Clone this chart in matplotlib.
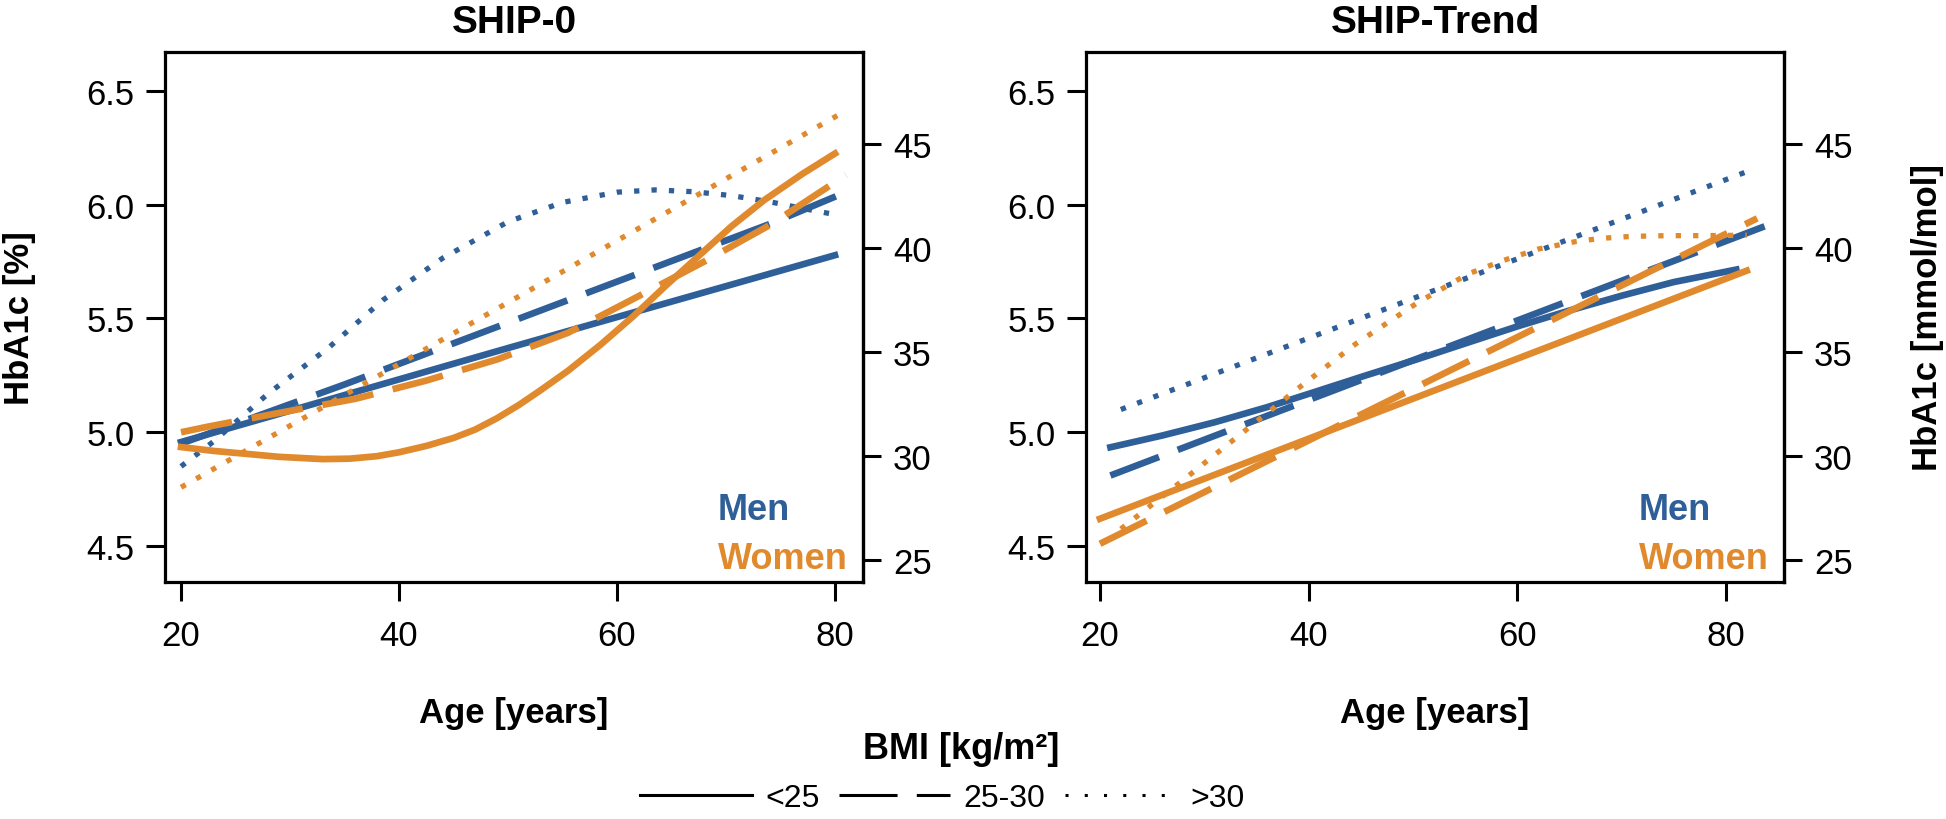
import numpy as np
import matplotlib.pyplot as plt
from matplotlib.lines import Line2D

plt.rcParams["font.family"] = ["Liberation Sans", "DejaVu Sans"]

### DATA ###
panels = ["SHIP-0", "SHIP-Trend"]
bmi_groups = ["<25", "25-30", ">30"]
sexes = ["Men", "Women"]

# SHIP-0, men
s0_men_lt25_age = [20, 50, 80]
s0_men_lt25 = [4.957, 5.37, 5.778]
s0_men_25_30_age = [20, 35, 48, 61, 74, 81]
s0_men_25_30 = [4.95, 5.21, 5.445, 5.68, 5.915, 6.055]
s0_men_gt30_age = [20, 23, 28, 33.5, 38.5, 44, 50, 55, 60, 63.5, 67, 70.5, 74, 77, 80.5]
s0_men_gt30 = [4.85, 4.96, 5.17, 5.37, 5.58, 5.765, 5.925, 6.01, 6.055, 6.065,
               6.057, 6.04, 6.013, 5.984, 5.952]

# SHIP-0, women
s0_women_lt25_age = [20, 23, 26, 29, 33, 35.5, 38, 40, 42.5, 45, 47, 49, 51,
                     53, 55.5, 58.5, 61.5, 64.5, 67.5, 70.5, 73.5, 77, 80]
s0_women_lt25 = [4.935, 4.918, 4.905, 4.892, 4.882, 4.884, 4.895, 4.912, 4.94,
                 4.975, 5.012, 5.062, 5.12, 5.185, 5.27, 5.385, 5.51, 5.645,
                 5.775, 5.905, 6.02, 6.135, 6.225]
s0_women_25_30_age = [20, 22.5, 29, 36, 42.5, 49, 55.5, 61.5, 68, 74, 81]
s0_women_25_30 = [5.0, 5.025, 5.085, 5.147, 5.227, 5.32, 5.437, 5.586, 5.75,
                  5.91, 6.13]
s0_women_gt30_age = [20, 50, 81]
s0_women_gt30 = [4.758, 5.57, 6.413]

# SHIP-Trend, men
st_men_lt25_age = [21, 26, 31, 36, 40.5, 45.5, 50.5, 55, 60, 65, 70, 75, 81]
st_men_lt25 = [4.934, 4.986, 5.044, 5.11, 5.176, 5.25, 5.322, 5.39, 5.465,
               5.535, 5.6, 5.66, 5.715]
st_men_25_30_age = [21, 84]
st_men_25_30 = [4.81, 5.91]
st_men_gt30_age = [22, 82]
st_men_gt30 = [5.10, 6.145]

# SHIP-Trend, women
st_women_lt25_age = [20, 82]
st_women_lt25 = [4.62, 5.71]
st_women_25_30_age = [20, 83]
st_women_25_30 = [4.51, 5.94]
st_women_gt30_age = [22, 27.7, 33.3, 39, 44.5, 50.5, 55.3, 58.6, 62, 65.6, 68,
                     71, 74.5, 78, 82]
st_women_gt30 = [4.575, 4.78, 4.985, 5.193, 5.388, 5.571, 5.696, 5.754, 5.805,
                 5.838, 5.852, 5.861, 5.864, 5.864, 5.866]

x_ticks = [20, 40, 60, 80]
y_ticks = [4.5, 5.0, 5.5, 6.0, 6.5]
mmol_ticks = [25, 30, 35, 40, 45]

### STYLE ###
BLUE = "#2f5f98"
ORANGE = "#e08a2d"
styles = {
    "<25": dict(linestyle="-", linewidth=4.8),
    "25-30": dict(linestyle=(0, (7.8, 3.0)), linewidth=4.8),
    ">30": dict(linestyle=(0, (1, 2.3)), linewidth=3.8),
}


def pct_to_mmol(p):
    return (np.asarray(p) - 2.15) * 10.929


def mmol_to_pct(m):
    return np.asarray(m) / 10.929 + 2.15


panel_data = {
    "SHIP-0": [
        ("Men", "<25", s0_men_lt25_age, s0_men_lt25),
        ("Men", "25-30", s0_men_25_30_age, s0_men_25_30),
        ("Men", ">30", s0_men_gt30_age, s0_men_gt30),
        ("Women", "<25", s0_women_lt25_age, s0_women_lt25),
        ("Women", "25-30", s0_women_25_30_age, s0_women_25_30),
        ("Women", ">30", s0_women_gt30_age, s0_women_gt30),
    ],
    "SHIP-Trend": [
        ("Men", "<25", st_men_lt25_age, st_men_lt25),
        ("Men", "25-30", st_men_25_30_age, st_men_25_30),
        ("Men", ">30", st_men_gt30_age, st_men_gt30),
        ("Women", "<25", st_women_lt25_age, st_women_lt25),
        ("Women", "25-30", st_women_25_30_age, st_women_25_30),
        ("Women", ">30", st_women_gt30_age, st_women_gt30),
    ],
}
xlims = {"SHIP-0": (18.53, 82.57), "SHIP-Trend": (18.66, 85.57)}
lefts = {"SHIP-0": 165 / 1946, "SHIP-Trend": 1086 / 1946}

fig = plt.figure(figsize=(19.46, 8.2), dpi=100)

for name in panels:
    ax = fig.add_axes([lefts[name], 237 / 820, 698 / 1946, 530 / 820])
    for sex, grp, age, val in panel_data[name]:
        color = BLUE if sex == "Men" else ORANGE
        ax.plot(age, val, color=color, solid_joinstyle="round", **styles[grp])

    ax.set_xlim(*xlims[name])
    ax.set_ylim(4.342, 6.671)
    ax.set_xticks(x_ticks)
    ax.set_yticks(y_ticks)
    ax.set_yticklabels([f"{v:.1f}" for v in y_ticks])
    for sp in ax.spines.values():
        sp.set_linewidth(2.3)
    ax.tick_params(axis="both", direction="out", length=13.5, width=2.2,
                   labelsize=25)
    ax.tick_params(axis="x", pad=13)
    ax.tick_params(axis="y", pad=8.5)

    sec = ax.secondary_yaxis("right", functions=(pct_to_mmol, mmol_to_pct))
    sec.set_yticks(mmol_ticks)
    sec.spines["right"].set_linewidth(2.3)
    sec.tick_params(direction="out", length=13, width=2.2, labelsize=25, pad=8.5)

    ax.set_title(name, fontsize=28, fontweight="bold", pad=14.5)
    ax.set_xlabel("Age [years]", fontsize=25, fontweight="bold")
    ax.xaxis.set_label_coords(0.5, -0.215)

    ax.text(0.792, 0.119, "Men", transform=ax.transAxes, color=BLUE,
            fontsize=26, fontweight="bold", va="baseline", ha="left")
    ax.text(0.792, 0.0264, "Women", transform=ax.transAxes, color=ORANGE,
            fontsize=26, fontweight="bold", va="baseline", ha="left")

fig.text(20 / 1946, 1 - 318 / 820, "HbA1c [%]", rotation=90, fontsize=25,
         fontweight="bold", ha="center", va="center")
fig.text(1927 / 1946, 1 - 318 / 820, "HbA1c [mmol/mol]", rotation=90,
         fontsize=25, fontweight="bold", ha="center", va="center")
fig.text(961 / 1946, 1 - 750 / 820, "BMI [kg/m²]", fontsize=26,
         fontweight="bold", ha="center", va="center")

handles = [
    Line2D([], [], color="black", linewidth=2.2, linestyle="-"),
    Line2D([], [], color="black", linewidth=2.2, linestyle=(0, (19, 6.3))),
    Line2D([], [], color="black", linewidth=2.2, linestyle=(0, (1, 5.3))),
]
fig.legend(handles, bmi_groups, loc="center", ncol=3, frameon=False,
           bbox_to_anchor=(942 / 1946, 1 - 799 / 820), fontsize=23,
           handlelength=3.5, handletextpad=0.42, columnspacing=0.6)

plt.savefig("out.png", dpi=100)
